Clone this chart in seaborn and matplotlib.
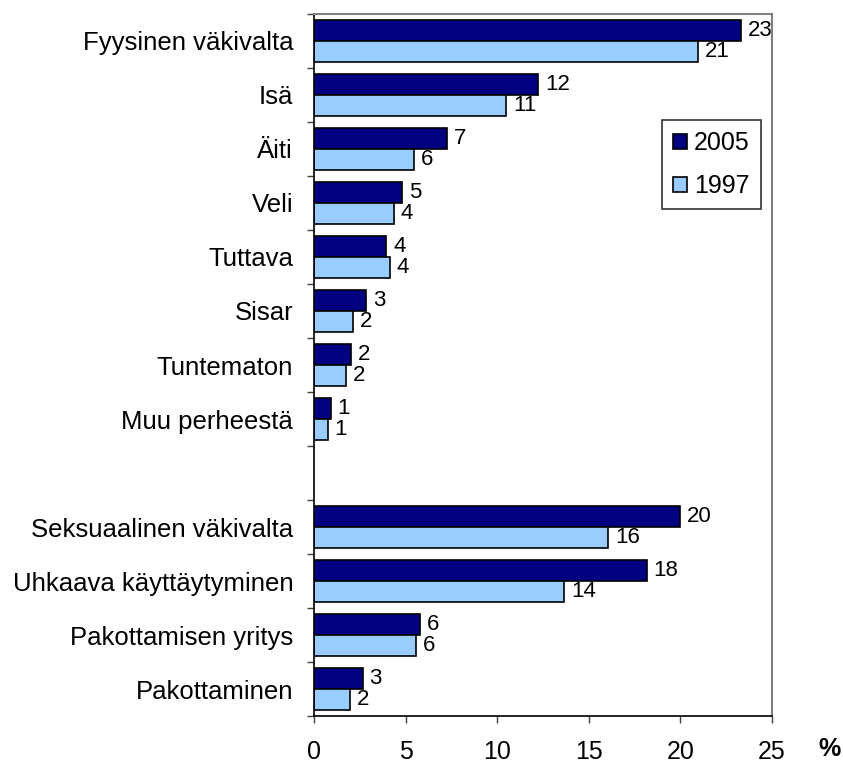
import pandas as pd
import numpy as np
import matplotlib
matplotlib.use('Agg')
import matplotlib.pyplot as plt
import seaborn as sns

# categories (blank entry separates the two groups)
categories = ['Fyysinen väkivalta', 'Isä', 'Äiti', 'Veli', 'Tuttava', 'Sisar',
              'Tuntematon', 'Muu perheestä', '',
              'Seksuaalinen väkivalta', 'Uhkaava käyttäytyminen',
              'Pakottamisen yritys', 'Pakottaminen']
values_2005 = [23.3, 12.25, 7.25, 4.8, 3.95, 2.85, 2.0, 0.9, None,
               20.0, 18.15, 5.8, 2.65]
values_1997 = [20.95, 10.5, 5.45, 4.35, 4.15, 2.15, 1.75, 0.75, None,
               16.05, 13.65, 5.55, 1.95]
labels_2005 = ['23', '12', '7', '5', '4', '3', '2', '1', '', '20', '18', '6', '3']
labels_1997 = ['21', '11', '6', '4', '4', '2', '2', '1', '', '16', '14', '6', '2']
years = ['2005', '1997']

rows = []
for cat, v05, v97 in zip(categories, values_2005, values_1997):
    if v05 is not None:
        rows.append({'kategoria': cat, 'vuosi': '2005', 'arvo': v05})
        rows.append({'kategoria': cat, 'vuosi': '1997', 'arvo': v97})
df = pd.DataFrame(rows)

sns.set_style('white')
plt.rcParams['font.family'] = ['Liberation Sans', 'DejaVu Sans']
plt.rcParams['text.color'] = 'black'
plt.rcParams['xtick.color'] = 'black'
plt.rcParams['ytick.color'] = 'black'

fig = plt.figure(figsize=(8.43, 7.64), dpi=100)
ax = fig.add_axes([0.3725, 0.0628, 0.5433, 0.9189])

sns.barplot(data=df, x='arvo', y='kategoria', hue='vuosi', order=categories,
            hue_order=years, palette=['#000080', '#99CCFF'], saturation=1,
            orient='h', edgecolor='black', linewidth=1.2, width=0.78, ax=ax,
            errorbar=None)

# value labels (rounded values as printed in the original)
label_lookup = {'2005': labels_2005, '1997': labels_1997}
for year, cont in zip(years, ax.containers):
    labs = []
    for bar in cont:
        idx = int(round(bar.get_y() + bar.get_height() / 2))
        labs.append(label_lookup[year][idx])
    ax.bar_label(cont, labels=labs, padding=5, fontsize=16, color='black')

ax.set_xlim(0, 25)
ax.set_ylim(len(categories) - 0.5, -0.5)
ax.set_xticks(range(0, 26, 5))
ax.set_xlabel('')
ax.set_ylabel('')

# category labels centred, tick marks at group boundaries
ax.set_yticks(range(len(categories)))
ax.set_yticklabels(categories)
ax.set_yticks(np.arange(-0.5, len(categories), 1), minor=True)
ax.tick_params(axis='y', which='major', length=0, pad=15, labelsize=18.5)
ax.tick_params(axis='y', which='minor', length=5, width=1, color='#404040', left=True)
ax.tick_params(axis='x', which='major', length=5, width=1, color='#404040',
               bottom=True, pad=12, labelsize=18)

for side in ['left', 'bottom']:
    ax.spines[side].set_color('black')
    ax.spines[side].set_linewidth(1.2)
for side in ['top', 'right']:
    ax.spines[side].set_color('#808080')
    ax.spines[side].set_linewidth(1.5)

fig.text(0.997, 0.019, '%', fontsize=18, fontweight='bold', ha='right', va='center')

handles, labels = ax.get_legend_handles_labels()
leg = ax.legend(handles, labels, loc='upper right', bbox_to_anchor=(0.976, 0.849),
                fontsize=18, frameon=True, fancybox=False, edgecolor='black',
                handlelength=0.55, handleheight=0.55, handletextpad=0.3,
                labelspacing=0.75, borderpad=0.45, borderaxespad=0)
leg.get_frame().set_linewidth(1.2)

fig.savefig('out.png', dpi=100, facecolor='white')
